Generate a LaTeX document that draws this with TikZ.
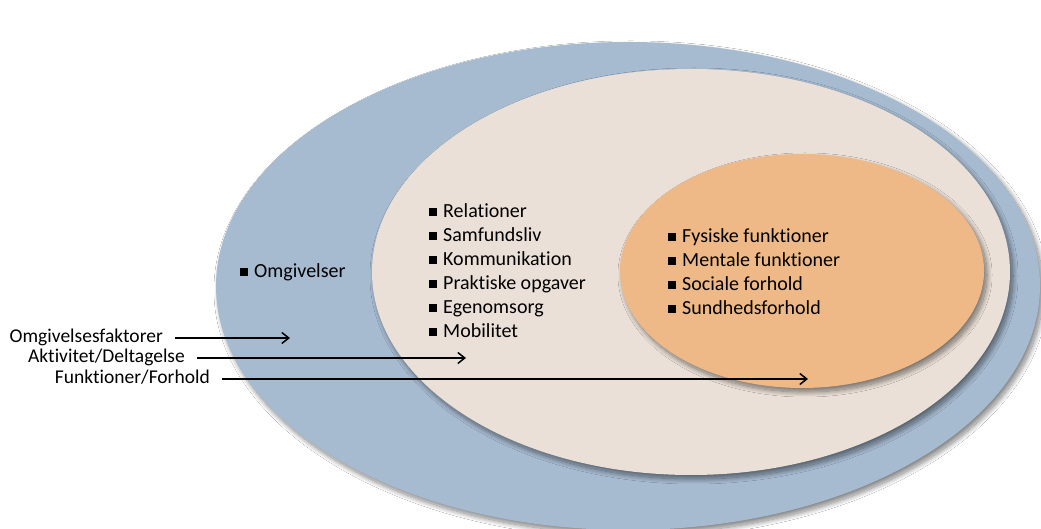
\documentclass[tikz,border=0pt]{standalone}
\usepackage{fontspec}
\setmainfont[Ligatures=NoCommon]{Carlito}
\usetikzlibrary{shadows.blur,arrows.meta}
\definecolor{outerblue}{HTML}{A6BAD0}
\definecolor{midbeige}{HTML}{EAE0D7}
\definecolor{inorange}{HTML}{EFB987}
\tikzset{
  ring/.style={blur shadow={shadow blur steps=20, shadow xshift=3pt, shadow yshift=-4pt, shadow blur radius=5pt, shadow opacity=50}},
  listtxt/.style={anchor=base west, align=left, inner sep=0pt, font=\fontsize{20}{24}\selectfont},
  lbl/.style={anchor=base east, inner sep=0pt, font=\fontsize{19.5}{20}\selectfont},
  arr/.style={-{Straight Barb[length=7pt,width=11pt]}, line width=1.5pt},
}
\newcommand{\sq}{\rule[1.5pt]{8pt}{8pt}\hspace{6pt}}
\begin{document}
\begin{tikzpicture}[x=1pt,y=1pt]
\useasboundingbox (0,0) rectangle (1041,529);
\fill[white] (0,0) rectangle (1041,529);
\path[ring, fill=outerblue] (628,243) ellipse [x radius=412, y radius=244];
\path[ring, fill=midbeige] (691,257) ellipse [x radius=319, y radius=203];
\path[ring, fill=inorange] (802,258) ellipse [x radius=182, y radius=117];

\node[listtxt] (omg) at (240,251) {\sq Omgivelser};
\node[listtxt] (act) at (429,191) {\sq Relationer\\ \sq Samfundsliv\\ \sq Kommunikation\\ \sq Praktiske opgaver\\ \sq Egenomsorg\\ \sq Mobilitet};
\node[listtxt] (fun) at (668,214) {\sq Fysiske funktioner\\ \sq Mentale funktioner\\ \sq Sociale forhold\\ \sq Sundhedsforhold};

\node[lbl] (l1) at (163,186) {Omgivelsesfaktorer};
\node[lbl] (l2) at (185,166) {Aktivitet/Deltagelse};
\node[lbl] (l3) at (210,145) {Funktioner/Forhold};
\coordinate (e1) at (290,191);
\coordinate (e2) at (466,171);
\coordinate (e3) at (808,150);
\draw[arr] ([xshift=12pt,yshift=5pt]l1.base east) -- (e1);
\draw[arr] ([xshift=12pt,yshift=5pt]l2.base east) -- (e2);
\draw[arr] ([xshift=12pt,yshift=5pt]l3.base east) -- (e3);
\end{tikzpicture}
\end{document}
